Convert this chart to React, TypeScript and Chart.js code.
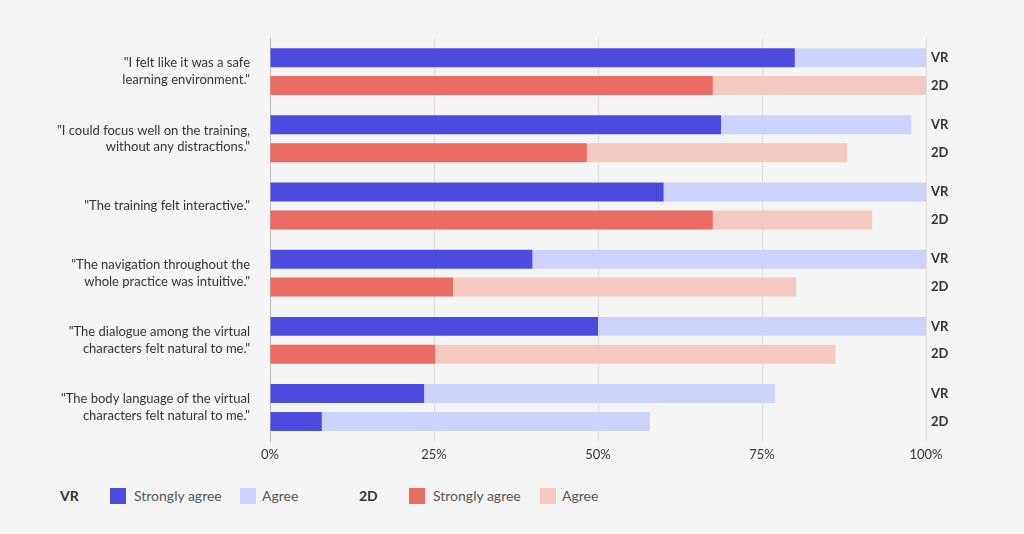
import React, { useEffect, useRef } from "react";
import { Chart, registerables } from "chart.js";
Chart.register(...registerables);

const questions: string[][] = [
  ['"I felt like it was a safe', 'learning environment."'],
  ['"I could focus well on the training,', 'without any distractions."'],
  ['"The training felt interactive."'],
  ['"The navigation throughout the', 'whole practice was intuitive."'],
  ['"The dialogue among the virtual', 'characters felt natural to me."'],
  ['"The body language of the virtual', 'characters felt natural to me."'],
];
const vrStrong = [80, 68.75, 60, 40, 50, 23.5];
const vrAgree = [20, 29, 40, 60, 50, 53.5];
const d2Strong = [67.5, 48.3, 67.5, 27.9, 25.2, 7.9];
const d2Agree = [32.5, 39.7, 24.3, 52.3, 61, 50];
const xTicks = ["0%", "25%", "50%", "75%", "100%"];

const BLUE = "#4b4be0", LBLUE = "#cdd3fb", RED = "#ea6a64", PINK = "#f3c9c0";
const FONT = "Lato, 'Open Sans', sans-serif";

export default function App() {
  const ref = useRef<HTMLCanvasElement>(null);
  useEffect(() => {
    const sideLabels = {
      id: "sideLabels",
      afterDatasetsDraw(chart: any) {
        const ctx = chart.ctx;
        ctx.save();
        ctx.font = `bold 13px ${FONT}`;
        ctx.fillStyle = "#333";
        ctx.textBaseline = "middle";
        [[0, "VR"], [2, "2D"]].forEach(([di, txt]: any) => {
          chart.getDatasetMeta(di).data.forEach((el: any) => {
            ctx.fillText(txt, chart.chartArea.right + 5, el.y);
          });
        });
        ctx.restore();
      },
    };
    const chart = new Chart(ref.current!, {
      type: "bar",
      data: {
        labels: questions as any,
        datasets: [
          { data: vrStrong, backgroundColor: BLUE, stack: "VR" },
          { data: vrAgree, backgroundColor: LBLUE, stack: "VR" },
          { data: d2Strong, backgroundColor: d2Strong.map((_, i) => (i === 5 ? BLUE : RED)), stack: "2D" },
          { data: d2Agree, backgroundColor: d2Agree.map((_, i) => (i === 5 ? LBLUE : PINK)), stack: "2D" },
        ],
      },
      options: {
        indexAxis: "y",
        animation: false,
        responsive: false,
        categoryPercentage: 0.83,
        barPercentage: 0.68,
        layout: { padding: { top: 38, right: 98, left: 0, bottom: 0 } },
        plugins: { legend: { display: false }, tooltip: { enabled: false } },
        scales: {
          x: {
            stacked: true,
            min: 0,
            max: 100,
            afterBuildTicks: (s: any) => { s.ticks = [0, 25, 50, 75, 100].map((v) => ({ value: v })); },
            ticks: { callback: (_v: any, i: number) => xTicks[i], color: "#333", font: { family: FONT, size: 13 }, padding: 6 },
            grid: { color: "#dcdcdc", drawTicks: false },
            border: { display: false },
          },
          y: {
            stacked: true,
            afterFit: (s: any) => { s.width = 270; },
            ticks: { color: "#333", font: { family: FONT, size: 13, lineHeight: 1.3 }, padding: 12 },
            grid: { display: false },
            border: { color: "#bbb" },
          },
        },
      },
      plugins: [sideLabels],
    });
    return () => chart.destroy();
  }, []);

  const sq = (x: number, c: string) => (
    <div style={{ position: "absolute", left: x, top: 488, width: 16, height: 16, background: c }} />
  );
  const txt = (x: number, t: string, bold = false) => (
    <div style={{ position: "absolute", left: x, top: 487, fontSize: 14, color: bold ? "#333" : "#555", fontWeight: bold ? 700 : 400, lineHeight: "18px" }}>{t}</div>
  );
  return (
    <div style={{ position: "fixed", inset: 0, background: "#f5f5f5", fontFamily: FONT }}>
      <canvas ref={ref} width={1024} height={470} style={{ position: "absolute", left: 0, top: 0 }} />
      {txt(60, "VR", true)}
      {sq(110, BLUE)}
      {txt(134, "Strongly agree")}
      {sq(240, LBLUE)}
      {txt(262, "Agree")}
      {txt(359, "2D", true)}
      {sq(409, RED)}
      {txt(433, "Strongly agree")}
      {sq(540, PINK)}
      {txt(562, "Agree")}
    </div>
  );
}
